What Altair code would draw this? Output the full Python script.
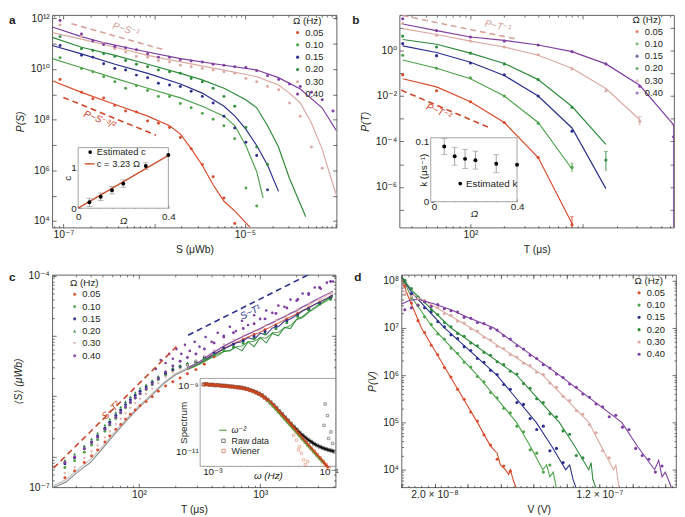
import math
import altair as alt
import pandas as pd

FONT = "Liberation Sans, DejaVu Sans, sans-serif"
TXT = "#231f20"
SER = ["0.05", "0.10", "0.15", "0.20", "0.30", "0.40"]
COLS = ["#D84B2C", "#4FA34A", "#2B2F8E", "#2E8C3C", "#DCAAA4", "#7F3FA2"]
COLMAP = dict(zip(SER, COLS))
CSCALE = alt.Scale(domain=SER, range=COLS)
H = 216
WA, WB, WC, WD = 289, 279, 288, 279
ONE = pd.DataFrame({"k": [0]})

# ======================= DATA =======================
# ---- panel a : P(S) (log10 values) ----
a_dot_logS = [-7.036, -6.800, -6.675, -6.556, -6.433, -6.314, -6.195, -6.072, -5.953, -5.830,
              -5.711, -5.592, -5.469, -5.350, -5.231, -5.112, -4.989, -4.870, -4.751, -4.628,
              -4.509, -4.390, -4.267, -4.148, -4.029]
a_dot_logP = {
    "0.05": [9.59, 9.08, 8.83, 8.86, 8.57, 8.34, 8.30, 7.95, 7.86, 7.69, 7.30, 6.85, 6.23, 5.75, 4.91, 3.90],
    "0.10": [10.45, 10.02, 9.89, 9.70, 9.50, 9.24, 9.34, 9.15, 8.92, 8.92, 8.64, 8.47, 8.25, 8.02, 7.76, 7.25, 5.30, 4.59],
    "0.15": [10.93, 10.54, 10.47, 10.21, 10.02, 9.96, 9.76, 9.66, 9.44, 9.37, 9.31, 9.12, 8.92, 8.66, 8.14, 7.67, 7.11, 6.59, 5.23],
    "0.20": [11.28, 10.80, 10.73, 10.60, 10.50, 10.34, 10.19, 10.09, 9.96, 9.89, 9.83, 9.63, 9.50, 9.24, 8.92, 8.53, 7.69, 6.92, 6.23],
    "0.30": [11.74, 11.28, 11.09, 11.02, 10.80, 10.67, 10.50, 10.47, 10.34, 10.28, 10.15, 10.09, 10.02, 9.96, 9.89, 9.83, 9.63, 9.50, 9.31, 9.18, 8.66, 8.14, 6.92, 6.08],
    "0.40": [11.92, 11.38, 11.12, 10.97, 10.89, 10.84, 10.76, 10.60, 10.47, 10.47, 10.37, 10.32, 10.28, 10.19, 10.15, 10.09, 10.06, 9.93, 9.74, 9.59, 9.41, 9.31, 9.08, 8.79, 8.34],
}
a_line_logS = {
    "0.05": [-7.122, -6.80, -6.43, -6.07, -5.83, -5.71, -5.59, -5.47, -5.35, -5.23, -5.11, -4.94],
    "0.10": [-7.122, -6.80, -6.43, -6.07, -5.71, -5.47, -5.23, -5.11, -4.99, -4.87, -4.80],
    "0.15": [-7.122, -6.80, -6.43, -6.07, -5.71, -5.47, -5.23, -5.11, -4.99, -4.87, -4.75, -4.63],
    "0.20": [-7.122, -6.80, -6.43, -6.07, -5.71, -5.47, -5.23, -4.99, -4.87, -4.75, -4.63, -4.51, -4.33],
    "0.30": [-7.122, -6.80, -6.43, -6.07, -5.71, -5.23, -4.87, -4.63, -4.51, -4.39, -4.27, -4.15, -4.04, -3.99],
    "0.40": [-7.122, -6.80, -6.556, -6.195, -5.71, -5.23, -4.87, -4.63, -4.39, -4.15, -3.99],
}
a_line_logP = {
    "0.05": [9.54, 9.08, 8.60, 8.14, 7.76, 7.43, 6.85, 6.20, 5.43, 4.78, 4.39, 3.74],
    "0.10": [10.41, 10.05, 9.63, 9.24, 8.86, 8.53, 8.14, 7.76, 6.98, 5.95, 4.91],
    "0.15": [10.93, 10.60, 10.19, 9.83, 9.41, 9.05, 8.53, 8.14, 7.63, 6.98, 6.20, 5.17],
    "0.20": [11.25, 10.86, 10.54, 10.19, 9.83, 9.57, 9.24, 8.79, 8.47, 7.76, 6.92, 5.69, 4.17],
    "0.30": [11.44, 11.18, 10.86, 10.54, 10.28, 9.96, 9.70, 9.37, 9.05, 8.66, 7.89, 6.85, 5.56, 5.00],
    "0.40": [11.66, 11.28, 11.04, 10.76, 10.41, 10.15, 9.96, 9.66, 9.21, 8.47, 7.56],
}
a_ref1_logS, a_ref1_logP = [-6.91, -5.89], [11.79, 10.76]
a_ref2_logS, a_ref2_logP = [-7.00, -5.98], [8.88, 7.39]
# inset a
ins_omega = [0.05, 0.10, 0.15, 0.20, 0.30, 0.40]
ins_a_c = [0.144, 0.28, 0.44, 0.60, 1.03, 1.30]
ins_a_err = [0.10, 0.09, 0.09, 0.09, 0.08, 0.0]
ins_a_fit_om, ins_a_fit_c = [0.0, 0.4], [0.0, 1.292]

# ---- panel b : P(T) ----
b_T = [25, 50, 100, 200, 400, 800, 1600, 3200, 6400]
b_line_logP = {
    "0.05": [-1.25, -1.61, -2.26, -3.17, -4.71, -7.60],
    "0.10": [-0.43, -0.79, -1.25, -2.01, -3.17, -5.21],
    "0.15": [0.19, -0.10, -0.53, -1.11, -2.01, -3.41, -6.07],
    "0.20": [0.47, 0.26, -0.13, -0.58, -1.29, -2.47, -4.13],
    "0.30": [0.95, 0.69, 0.40, 0.14, -0.22, -0.79, -1.68, -3.05],
    "0.40": [1.15, 0.86, 0.58, 0.43, 0.23, -0.06, -0.60, -1.54, -3.27],
}
b_dot_logP = {
    "0.05": [-1.08, -1.78, -2.26, -3.17, -4.71, -7.65],
    "0.10": [-0.22, -0.79, -1.21, -2.01, -3.20, -5.14],
    "0.15": [0.29, -0.24, -0.56, -1.08, -2.01, -3.55],
    "0.20": [0.62, 0.14, -0.13, -0.60, -1.29, -2.50, -4.82],
    "0.30": [1.17, 0.66, 0.40, 0.14, -0.20, -0.82, -1.78, -3.12],
    "0.40": [1.38, 0.86, 0.58, 0.40, 0.23, -0.06, -0.60, -1.58, -3.80],
}
b_err_ser = ["0.05", "0.10", "0.20", "0.30", "0.40"]
b_err_T = [800, 800, 1600, 3200, 6400]
b_err_lo = [-7.78, -5.35, -5.30, -3.30, -7.78]
b_err_hi = [-7.30, -4.95, -4.45, -2.90, -3.27]
b_ref1_logT, b_ref1_logP = [1.398, 2.41], [1.52, 0.49]
b_ref2_logT, b_ref2_logP = [1.384, 2.174], [-1.75, -3.41]
ins_b_k = [0.0924, 0.0761, 0.0717, 0.0696, 0.0636, 0.0620]
ins_b_err = [0.0135, 0.015, 0.016, 0.015, 0.015, 0.0]

# ---- panel c : <S>(T) ----
c_dot_logT = [1.39, 1.47, 1.55, 1.61, 1.66, 1.72, 1.76, 1.81, 1.85, 1.89, 1.93, 1.97, 2.01, 2.06, 2.11, 2.16, 2.22,
              2.28, 2.34, 2.40, 2.47, 2.54, 2.62, 2.70, 2.78, 2.86, 2.95, 3.04, 3.13, 3.22, 3.31, 3.40, 3.49, 3.58]
c_dot_logS = {
    "0.05": [-7.35, -7.24, -7.10, -6.99, -6.89, -6.76, -6.66, -6.55, -6.47, -6.38, -6.30, -6.23, -6.16, -6.09, -6.01, -5.92, -5.83,
             -5.76, -5.70, -5.63, -5.56, -5.47, -5.35, -5.22, -5.14, -5.06, -4.98, -4.90, -4.82, -4.72, -4.63, -4.54, -4.45, -4.36],
    "0.10": [-7.18, -7.07, -6.93, -6.81, -6.72, -6.58, -6.48, -6.37, -6.28, -6.19, -6.11, -6.03, -5.96, -5.89, -5.81, -5.73, -5.65,
             -5.58, -5.53, -5.49, -5.44, -5.39, -5.32, -5.24, -5.18, -5.12, -5.04, -4.96, -4.88, -4.78, -4.68, -4.57, -4.48, -4.40],
    "0.15": [-7.12, -7.02, -6.87, -6.76, -6.66, -6.53, -6.43, -6.32, -6.23, -6.14, -6.06, -5.99, -5.92, -5.85, -5.77, -5.70, -5.62,
             -5.56, -5.51, -5.47, -5.42, -5.36, -5.28, -5.20, -5.14, -5.08, -5.01, -4.93, -4.84, -4.75, -4.65, -4.55, -4.46, -4.37],
    "0.20": [-7.06, -6.96, -6.82, -6.71, -6.61, -6.48, -6.38, -6.27, -6.18, -6.09, -6.01, -5.94, -5.87, -5.81, -5.74, -5.67, -5.59,
             -5.53, -5.49, -5.45, -5.42, -5.37, -5.31, -5.24, -5.18, -5.12, -5.05, -4.97, -4.88, -4.78, -4.67, -4.57, -4.47, -4.38],
    "0.30": [-7.28, -7.18, -7.03, -6.92, -6.82, -6.69, -6.59, -6.47, -6.38, -6.29, -6.20, -6.12, -6.05, -5.97, -5.88, -5.79, -5.69,
             -5.61, -5.55, -5.49, -5.42, -5.34, -5.25, -5.15, -5.07, -5.00, -4.92, -4.84, -4.75, -4.66, -4.57, -4.48, -4.40, -4.31],
    "0.40": [-7.10, -7.01, -6.87, -6.77, -6.68, -6.55, -6.46, -6.35, -6.27, -6.18, -6.10, -6.03, -5.96, -5.88, -5.80, -5.71, -5.60,
             -5.50, -5.42, -5.36, -5.30, -5.22, -5.12, -5.02, -4.95, -4.88, -4.80, -4.72, -4.63, -4.54, -4.40, -4.30, -4.20, -4.10],
}
c_purple_extra_logT = [2.14, 2.18, 2.22, 2.25, 2.28, 2.31, 2.35, 2.38, 2.42, 2.46, 2.50, 2.55, 2.60, 2.65, 2.70, 2.75, 2.80,
                       2.85, 2.90, 2.95, 3.00, 3.05, 3.10, 3.15, 3.20, 3.25, 3.30, 3.35, 3.40, 3.45, 3.50, 3.55, 3.60]
c_purple_extra_logS = [-5.55, -5.40, -5.45, -5.30, -5.38, -5.22, -5.30, -5.15, -5.25, -5.10, -5.18, -5.02, -5.10, -4.95, -5.00,
                       -4.85, -4.92, -4.75, -4.82, -4.66, -4.72, -4.58, -4.62, -4.50, -4.52, -4.40, -4.42, -4.30, -4.32, -4.20,
                       -4.22, -4.12, -4.10]
c_gray_logT = [1.29, 1.40, 1.50, 1.60, 1.70, 1.80, 1.90, 2.00, 2.10, 2.20, 2.30, 2.40, 2.50, 2.60]
c_gray_logS = [-7.52, -7.42, -7.25, -7.10, -6.87, -6.63, -6.40, -6.19, -6.00, -5.80, -5.65, -5.55, -5.45, -5.32]
c_gray2_logS = [-7.49, -7.38, -7.21, -7.05, -6.83, -6.59, -6.37, -6.16, -5.97, -5.78, -5.63, -5.53, -5.43, -5.30]
c_hi_logT = [2.40, 2.45, 2.50, 2.55, 2.60, 2.65, 2.70, 2.75, 2.80, 2.85, 2.90, 2.95, 3.00, 3.05, 3.10, 3.15, 3.20,
             3.25, 3.30, 3.35, 3.40, 3.45, 3.50, 3.55, 3.60]
c_hi_logS = {
    "0.05": [-5.56, -5.51, -5.46, -5.40, -5.33, -5.28, -5.21, -5.16, -5.11, -5.07, -5.02, -4.98, -4.94, -4.89, -4.84, -4.79,
             -4.74, -4.69, -4.64, -4.58, -4.53, -4.48, -4.43, -4.38, -4.33],
    "0.10": [-5.55, -5.52, -5.47, -5.42, -5.36, -5.33, -5.26, -5.25, -5.18, -5.17, -5.10, -5.09, -5.03, -5.04, -4.95, -4.94,
             -4.87, -4.83, -4.73, -4.70, -4.61, -4.55, -4.48, -4.42, -4.35],
    "0.15": [-5.55, -5.50, -5.45, -5.39, -5.33, -5.27, -5.22, -5.17, -5.12, -5.10, -5.03, -5.06, -4.96, -4.98, -4.87, -4.85,
             -4.76, -4.72, -4.66, -4.59, -4.54, -4.48, -4.43, -4.38, -4.32],
    "0.20": [-5.55, -5.50, -5.46, -5.40, -5.36, -5.30, -5.26, -5.24, -5.19, -5.25, -5.10, -5.18, -5.03, -5.12, -4.96, -5.00,
             -4.86, -4.88, -4.73, -4.68, -4.60, -4.53, -4.46, -4.40, -4.34],
    "0.30": [-5.54, -5.49, -5.44, -5.37, -5.30, -5.24, -5.18, -5.12, -5.07, -5.02, -4.98, -4.92, -4.90, -4.82, -4.80, -4.72,
             -4.70, -4.62, -4.60, -4.52, -4.50, -4.42, -4.40, -4.33, -4.28],
    "0.40": [-5.53, -5.48, -5.43, -5.36, -5.29, -5.23, -5.17, -5.12, -5.07, -5.02, -4.97, -4.93, -4.88, -4.83, -4.78, -4.73,
             -4.68, -4.63, -4.58, -4.52, -4.47, -4.41, -4.36, -4.31, -4.26],
}
c_ref1_logT, c_ref1_logS = [1.297, 2.31], [-7.19, -5.18]
c_ref2_logT, c_ref2_logS = [2.406, 3.406], [-4.99, -3.98]
# inset c (spectrum)
ins_c_logw = [-3.15, -3.10, -3.05, -3.00, -2.95, -2.90, -2.85, -2.80, -2.75, -2.70, -2.65, -2.60, -2.55, -2.50, -2.45, -2.40,
              -2.35, -2.30, -2.25, -2.20, -2.15, -2.10, -2.05, -2.00, -1.95, -1.90, -1.85, -1.80, -1.75, -1.70, -1.65, -1.60,
              -1.55, -1.50, -1.45, -1.40, -1.35, -1.30, -1.25, -1.20, -1.15, -1.10, -1.05, -1.00, -0.95, -0.90]
ins_c_raw = [-8.95, -8.94, -8.97, -8.96, -8.98, -8.97, -8.99, -8.99, -9.00, -9.01, -9.02, -9.03, -9.04, -9.05, -9.07, -9.09,
             -9.12, -9.15, -9.19, -9.23, -9.28, -9.35, -9.42, -9.50, -9.58, -9.67, -9.77, -9.86, -9.96, -10.05, -10.15, -10.24,
             -10.33, -10.42, -10.50, -10.57, -10.64, -10.70, -10.76, -10.81, -10.85, -10.89, -10.92, -10.95, -10.97, -11.00]
ins_c_wiener = [-8.96, -8.95, -8.96, -8.97, -8.97, -8.98, -8.99, -9.00, -9.00, -9.02, -9.02, -9.04, -9.05, -9.06, -9.08, -9.10,
                -9.13, -9.16, -9.20, -9.24, -9.29, -9.36, -9.43, -9.51, -9.60, -9.69, -9.79, -9.88, -9.98, -10.07, -10.17, -10.28,
                -10.38, -10.49, -10.60, -10.70, -10.80, -10.90, -11.00, -11.10, -11.20, -11.30, -11.40, -11.50]
ins_c_wx_logw = [-1.60, -1.55, -1.50, -1.47, -1.43, -1.40, -1.52, -1.36]
ins_c_wx_logS = [-10.50, -10.65, -10.85, -11.05, -11.25, -11.40, -10.95, -11.30]
ins_c_rx_logw = [-1.06, -1.02, -1.08, -0.96, -1.00, -0.93]
ins_c_rx_logS = [-9.55, -9.90, -10.20, -10.40, -10.60, -10.75]
ins_c_fit_logw, ins_c_fit_logS = [-2.05, -1.10], [-9.45, -11.35]

# ---- panel d : P(V) (V in units of 1e-8 V) ----
d_V = [0.2, 0.6, 1.0, 1.4, 1.8, 2.2, 2.6, 3.0, 3.4, 3.8, 4.2, 4.6, 5.0, 5.4, 5.8, 6.2, 6.6, 7.0, 7.4, 7.8,
       8.2, 8.6, 9.0, 9.4, 9.8, 10.2, 10.6, 11.0, 11.4, 11.8, 12.2, 12.6, 13.0, 13.4, 13.8, 14.2, 14.6, 15.0, 15.4, 15.8]
d_dot_logP = {
    "0.05": [7.88, 7.52, 7.15, 6.90, 6.63, 6.43, 6.16, 5.96, 5.70, 5.49, 5.22, 5.03, 4.74, 4.52, 4.22, 4.08, 3.97],
    "0.10": [7.96, 7.63, 7.47, 7.23, 7.07, 6.87, 6.76, 6.57, 6.46, 6.27, 6.17, 5.97, 5.86, 5.63, 5.52, 5.30, 5.20, 4.92,
             4.80, 4.42, 4.35, 3.95, 4.10],
    "0.15": [7.99, 7.72, 7.62, 7.42, 7.33, 7.13, 7.02, 6.85, 6.77, 6.60, 6.52, 6.35, 6.27, 6.10, 6.01, 5.80, 5.70, 5.42,
             5.38, 5.08, 4.85, 4.92, 4.40, 4.45, 4.15],
    "0.20": [8.00, 7.83, 7.65, 7.55, 7.38, 7.28, 7.11, 7.02, 6.88, 6.82, 6.68, 6.62, 6.48, 6.42, 6.28, 6.22, 6.08, 6.02,
             5.82, 5.72, 5.50, 5.42, 5.18, 5.12, 4.82, 4.75, 4.30, 4.25],
    "0.30": [7.70, 7.66, 7.62, 7.58, 7.47, 7.43, 7.30, 7.26, 7.14, 7.10, 6.98, 6.93, 6.80, 6.74, 6.61, 6.56, 6.43, 6.38,
             6.25, 6.20, 6.06, 6.01, 5.83, 5.74, 5.55, 5.46, 5.25, 5.17, 4.95, 4.78, 4.40, 4.25],
    "0.40": [7.38, 7.42, 7.48, 7.55, 7.45, 7.49, 7.40, 7.36, 7.33, 7.22, 7.20, 7.11, 7.09, 6.99, 6.95, 6.83, 6.76, 6.62,
             6.55, 6.42, 6.35, 6.22, 6.15, 6.02, 5.95, 5.81, 5.74, 5.60, 5.53, 5.39, 5.33, 5.12, 5.15, 4.90, 4.85, 4.45,
             4.30, 4.22, 3.95, 4.08],
}
d_line_V = {
    "0.05": [0, 0.3, 0.6, 1.2, 2.9, 4.6, 5.4, 5.8, 6.0, 6.3, 6.5, 6.6, 6.8, 6.98],
    "0.10": [0, 0.6, 1.9, 4.59, 6.98, 7.8, 8.57, 8.8, 9.0, 9.2, 9.4],
    "0.15": [0, 0.6, 2.59, 5.78, 8.17, 9.1, 9.96, 10.2, 10.4, 10.6],
    "0.20": [0, 0.6, 2.99, 6.98, 9.57, 10.5, 11.36, 11.5, 11.6, 11.8],
    "0.30": [0, 0.6, 1.5, 4.19, 8.57, 11.36, 12.1, 12.86, 13.0, 13.2],
    "0.40": [0, 0.5, 1.0, 2.0, 3.0, 4.0, 5.58, 9.57, 13.36, 14.3, 15.35, 15.6, 15.8, 16.0, 16.4],
}
d_line_logP = {
    "0.05": [8.08, 7.75, 7.50, 7.00, 6.00, 5.00, 4.50, 4.35, 4.10, 4.00, 3.90, 4.00, 3.75, 3.60],
    "0.10": [8.08, 7.65, 7.00, 6.00, 5.00, 4.50, 4.00, 4.10, 3.85, 3.95, 3.60],
    "0.15": [8.08, 7.75, 7.00, 6.00, 5.00, 4.50, 4.00, 4.10, 3.80, 3.60],
    "0.20": [8.08, 7.80, 7.00, 6.00, 5.00, 4.50, 4.00, 4.15, 3.80, 3.60],
    "0.30": [7.78, 7.72, 7.55, 7.00, 6.00, 5.00, 4.50, 4.00, 4.10, 3.60],
    "0.40": [7.50, 7.58, 7.60, 7.50, 7.38, 7.22, 7.00, 6.00, 5.00, 4.50, 4.00, 4.20, 3.85, 3.95, 3.60],
}

# ======================= HELPERS =======================
def p10(v):
    return 10.0 ** v


def ident(v):
    return v


def e8(v):
    return v * 1e-8


def mk_long(xs, ys, xconv=p10, yconv=p10):
    rows = []
    for s in SER:
        if s not in ys:
            continue
        X = xs[s] if isinstance(xs, dict) else xs
        for i, (a, b) in enumerate(zip(X, ys[s])):
            rows.append({"s": s, "col": COLMAP[s], "x": xconv(a), "y": yconv(b), "i": i})
    return pd.DataFrame(rows)


def lab_expr(pairs):
    expr = "''"
    for v, s in reversed(pairs):
        tol = max(abs(v) * 1e-6, 1e-15)
        expr = f"abs(datum.value - ({v!r})) <= {tol!r} ? '{s}' : ({expr})"
    return expr


def lab_axis(orient, pairs, title, offset=0, lpad=2, tpad=4, italic=False, size=10.5, **kw):
    a = dict(orient=orient, values=[v for v, _ in pairs], labelExpr=lab_expr(pairs),
             ticks=False, tickSize=0, domain=False, grid=False, labelFlush=False,
             labelOverlap=False, labelFont=FONT, labelFontSize=size, labelColor=TXT,
             labelPadding=lpad, titleFont=FONT, titleFontSize=size, titleFontWeight="normal",
             titleColor=TXT, titlePadding=tpad, offset=offset, title=title)
    if italic:
        a["titleFontStyle"] = "italic"
    a.update(kw)
    return alt.Axis(**a)


def tick_axis(orient, values, size, offset):
    return alt.Axis(orient=orient, values=values, labels=False, ticks=True, tickSize=size,
                    tickColor="#333333", tickWidth=0.7, domain=False, grid=False, title=None, offset=offset)


def log_ticks(lo, hi, ks):
    out = []
    for e in range(math.floor(math.log10(lo)) - 1, math.ceil(math.log10(hi)) + 1):
        for k in ks:
            v = k * 10.0 ** e
            if lo <= v <= hi:
                out.append(v)
    return out


MINK = [2, 3, 4, 5, 6, 7, 8, 9]


def axis_layers(XS, YS, dummy, specs):
    d = pd.DataFrame({"x": [dummy[0]], "y": [dummy[1]]})
    out = []
    for xa, ya in specs:
        out.append(alt.Chart(d).mark_point(opacity=0).encode(
            x=alt.X("x:Q", scale=XS, axis=xa), y=alt.Y("y:Q", scale=YS, axis=ya)))
    return out


def frame_specs(W, xpairs, ypairs, xmaj, xmin, ymaj, ymin, xtitle, ytitle):
    return [
        (lab_axis("bottom", xpairs, xtitle, lpad=2, tpad=5),
         lab_axis("left", ypairs, ytitle, lpad=3, tpad=5, italic=True)),
        (tick_axis("top", xmaj, 4, -H), tick_axis("right", ymaj, 4, -W)),
        (tick_axis("top", xmin, 2, -H) if xmin else None, tick_axis("right", ymin, 2, -W) if ymin else None),
        (tick_axis("bottom", xmaj, 4, -H), tick_axis("left", ymaj, 4, -W)),
        (tick_axis("bottom", xmin, 2, -H) if xmin else None, tick_axis("left", ymin, 2, -W) if ymin else None),
    ]


def lines_layer(df, XS, YS, width=1.2, opacity=1.0):
    return alt.Chart(df).mark_line(strokeWidth=width, opacity=opacity, clip=True).encode(
        x=alt.X("x:Q", scale=XS, axis=None), y=alt.Y("y:Q", scale=YS, axis=None),
        color=alt.Color("col:N", scale=None), detail="s:N", order="i:Q")


def leg(x, y):
    return alt.Legend(title="Ω (Hz)", orient="none", legendX=x, legendY=y, symbolType="circle",
                      symbolSize=10, symbolStrokeWidth=0, labelFont=FONT, labelFontSize=9.5,
                      titleFont=FONT, titleFontSize=10, titleFontWeight="normal", labelColor=TXT,
                      titleColor=TXT, rowPadding=1.5, titlePadding=2, labelOffset=3)


def dots_layer(df, XS, YS, legend, size=9):
    return alt.Chart(df).mark_circle(size=size, opacity=1, clip=True).encode(
        x=alt.X("x:Q", scale=XS, axis=None), y=alt.Y("y:Q", scale=YS, axis=None),
        color=alt.Color("s:N", scale=CSCALE, legend=legend))


def dash_layer(xs, ys, color, XS, YS, xconv=p10, yconv=p10):
    df = pd.DataFrame({"x": [xconv(v) for v in xs], "y": [yconv(v) for v in ys]})
    return alt.Chart(df).mark_line(color=color, strokeDash=[6, 4], strokeWidth=1.6, clip=True).encode(
        x=alt.X("x:Q", scale=XS, axis=None), y=alt.Y("y:Q", scale=YS, axis=None))


def note_layer(x, y, text, color, angle, XS, YS, size=10):
    df = pd.DataFrame({"x": [x], "y": [y], "t": [text]})
    return alt.Chart(df).mark_text(color=color, angle=angle, font=FONT, fontSize=size, fontStyle="italic").encode(
        x=alt.X("x:Q", scale=XS, axis=None), y=alt.Y("y:Q", scale=YS, axis=None), text="t:N")


def letter(ch, dx, dy):
    return alt.Chart(ONE).mark_text(text=ch, font=FONT, fontSize=12, fontWeight="bold", color=TXT,
                                    align="left", baseline="top").encode(x=alt.value(dx), y=alt.value(dy))


def vtext(text, x, y, size=9.5, color=TXT, italic=False):
    kw = dict(text=text, font=FONT, fontSize=size, color=color, align="left", baseline="middle")
    if italic:
        kw["fontStyle"] = "italic"
    return alt.Chart(ONE).mark_text(**kw).encode(x=alt.value(x), y=alt.value(y))


def frame_rect(x0, x1, y0, y1):
    return alt.Chart(ONE).mark_rect(fill="white", stroke="#8c8c8c", strokeWidth=0.8).encode(
        x=alt.value(x0), x2=alt.value(x1), y=alt.value(y0), y2=alt.value(y1))


def inset_specs(W, x0, y1, xpairs, ypairs, xt_maj, xt_min, yt_maj, yt_min, xtitle, ytitle,
                x_lpad, y_lpad, xtitleY, ytitleX, xitalic=True):
    xa = lab_axis("bottom", xpairs, xtitle, offset=y1 - H, lpad=x_lpad, tpad=1, size=10,
                  titleY=xtitleY, titleFontStyle="italic" if xitalic else "normal")
    ya = lab_axis("left", ypairs, ytitle, offset=-x0, lpad=y_lpad, tpad=1, size=10, titleX=ytitleX)
    return [
        (xa, ya),
        (tick_axis("top", xt_maj, 3, -y1), tick_axis("right", yt_maj, 3, x0 - W)),
        (tick_axis("top", xt_min, 2, -y1) if xt_min else None, tick_axis("right", yt_min, 2, x0 - W) if yt_min else None),
    ]


def panel(W, main_layers, inset_layers=None):
    main = alt.layer(*main_layers).resolve_axis(x="independent", y="independent")
    if inset_layers is not None:
        ch = alt.layer(main, inset_layers).resolve_scale(x="independent", y="independent")
    else:
        ch = main
    return ch.properties(width=W, height=H)


# ======================= PANEL A =======================
AX = alt.Scale(type="log", domain=[p10(-7.122), p10(-3.99)], nice=False)
AY = alt.Scale(type="log", domain=[p10(3.74), p10(12.13)], nice=False)
a_layers = [
    lines_layer(mk_long(a_line_logS, a_line_logP), AX, AY),
    dots_layer(mk_long(a_dot_logS, a_dot_logP), AX, AY, leg(244.6, 1)),
    dash_layer(a_ref1_logS, a_ref1_logP, "#D9A39C", AX, AY),
    dash_layer(a_ref2_logS, a_ref2_logP, "#D0452A", AX, AY),
    note_layer(p10(-6.31), p10(11.56), "P~S⁻¹", "#D29C95", 16, AX, AY),
    note_layer(p10(-6.60), p10(8.00), "P~S⁻³/²", "#D0452A", 22, AX, AY),
    letter("a", -44, 0),
]
a_layers += axis_layers(AX, AY, (p10(-5.5), p10(8)), frame_specs(
    WA, [(1e-7, "10⁻⁷"), (1e-5, "10⁻⁵")],
    [(1e12, "10¹²"), (1e10, "10¹⁰"), (1e8, "10⁸"), (1e6, "10⁶"), (1e4, "10⁴")],
    log_ticks(AX.domain[0], AX.domain[1], [1]), log_ticks(AX.domain[0], AX.domain[1], MINK),
    log_ticks(AY.domain[0], AY.domain[1], [1]), None, "S (μWb)", "P(S)"))

# inset a
IA = (26.3, 118.0, 134.7, 196.3)
IAX = alt.Scale(domain=[0, 0.4], range=[IA[0], IA[1]], nice=False, zero=False)
IAY = alt.Scale(domain=[0, 1.48], range=[IA[3], IA[2]], nice=False, zero=False)
ia_df = pd.DataFrame({"om": ins_omega, "c": ins_a_c, "lo": [c - e for c, e in zip(ins_a_c, ins_a_err)],
                      "hi": [c + e for c, e in zip(ins_a_c, ins_a_err)], "e": ins_a_err})
ia_err = ia_df[ia_df.e > 0]
ia_fit = pd.DataFrame({"om": ins_a_fit_om, "c": ins_a_fit_c})
ia_layers = [
    frame_rect(*IA),
    alt.Chart(ia_err).mark_rule(color="#8a8a8a", strokeWidth=0.8).encode(
        x=alt.X("om:Q", scale=IAX, axis=None), y=alt.Y("lo:Q", scale=IAY, axis=None), y2="hi:Q"),
    alt.Chart(ia_err).mark_tick(orient="horizontal", size=6, thickness=0.8, color="#8a8a8a").encode(
        x=alt.X("om:Q", scale=IAX, axis=None), y=alt.Y("lo:Q", scale=IAY, axis=None)),
    alt.Chart(ia_err).mark_tick(orient="horizontal", size=6, thickness=0.8, color="#8a8a8a").encode(
        x=alt.X("om:Q", scale=IAX, axis=None), y=alt.Y("hi:Q", scale=IAY, axis=None)),
    alt.Chart(ia_fit).mark_line(color="#C9532F", strokeWidth=1.4).encode(
        x=alt.X("om:Q", scale=IAX, axis=None), y=alt.Y("c:Q", scale=IAY, axis=None)),
    alt.Chart(ia_df).mark_circle(size=16, color="black", opacity=1).encode(
        x=alt.X("om:Q", scale=IAX, axis=None), y=alt.Y("c:Q", scale=IAY, axis=None)),
    alt.Chart(ONE).mark_circle(size=14, color="black", opacity=1).encode(x=alt.value(38.5), y=alt.value(139.2)),
    vtext("Estimated c", 45.3, 139.2),
    alt.Chart(ONE).mark_rule(color="#C9532F", strokeWidth=1.4).encode(
        x=alt.value(33), x2=alt.value(43), y=alt.value(151.2)),
    vtext("c = 3.23 Ω", 45.3, 151.2),
]
ia_layers += axis_layers(IAX, IAY, (0.2, 0.7), inset_specs(
    WA, IA[0], IA[3], [(0, "0"), (0.4, "0.4")], [(0, "0"), (1, "1")],
    [0, 0.05, 0.1, 0.15, 0.2, 0.25, 0.3, 0.35, 0.4], None, [0, 0.5, 1.0], None,
    "Ω", "c", 3, 2, 8, -6))
inset_a = alt.layer(*ia_layers).resolve_axis(x="independent", y="independent")
PA = panel(WA, a_layers, inset_a)

# ======================= PANEL B =======================
BX = alt.Scale(type="log", domain=[p10(1.37), p10(3.81)], nice=False)
BY = alt.Scale(type="log", domain=[p10(-7.78), p10(1.54)], nice=False)
b_errdf = pd.DataFrame({"s": b_err_ser, "col": [COLMAP[s] for s in b_err_ser], "x": b_err_T,
                        "lo": [p10(v) for v in b_err_lo], "hi": [p10(v) for v in b_err_hi]})
b_layers = [
    alt.Chart(b_errdf).mark_rule(strokeWidth=0.9, clip=True).encode(
        x=alt.X("x:Q", scale=BX, axis=None), y=alt.Y("lo:Q", scale=BY, axis=None), y2="hi:Q",
        color=alt.Color("col:N", scale=None)),
    alt.Chart(b_errdf).mark_tick(orient="horizontal", size=4, thickness=0.8, clip=True).encode(
        x=alt.X("x:Q", scale=BX, axis=None), y=alt.Y("hi:Q", scale=BY, axis=None),
        color=alt.Color("col:N", scale=None)),
    lines_layer(mk_long(b_T, b_line_logP, xconv=ident), BX, BY),
    dots_layer(mk_long(b_T, b_dot_logP, xconv=ident), BX, BY, leg(236.7, 0), size=10),
    dash_layer(b_ref1_logT, b_ref1_logP, "#D9A39C", BX, BY),
    dash_layer(b_ref2_logT, b_ref2_logP, "#D0452A", BX, BY),
    note_layer(p10(2.244), p10(1.05), "P~T⁻¹", "#D29C95", 12, BX, BY),
    note_layer(p10(1.72), p10(-2.69), "P~T⁻²", "#D0452A", 23, BX, BY),
    letter("b", -48, 0),
]
b_layers += axis_layers(BX, BY, (p10(2.5), p10(-3)), frame_specs(
    WB, [(100, "10²")], [(1, "10⁰"), (1e-2, "10⁻²"), (1e-4, "10⁻⁴"), (1e-6, "10⁻⁶")],
    log_ticks(BX.domain[0], BX.domain[1], [1]), log_ticks(BX.domain[0], BX.domain[1], MINK),
    log_ticks(BY.domain[0], BY.domain[1], [1]), None, "T (μs)", "P(T)"))

IB = (31.7, 119.4, 124.7, 189.7)
IBX = alt.Scale(domain=[-0.015, 0.4], range=[IB[0], IB[1]], nice=False, zero=False)
IBY = alt.Scale(domain=[0, 0.107], range=[IB[3], IB[2]], nice=False, zero=False)
ib_df = pd.DataFrame({"om": ins_omega, "k": ins_b_k, "lo": [k - e for k, e in zip(ins_b_k, ins_b_err)],
                      "hi": [k + e for k, e in zip(ins_b_k, ins_b_err)], "e": ins_b_err})
ib_err = ib_df[ib_df.e > 0]
ib_layers = [
    frame_rect(*IB),
    alt.Chart(ib_err).mark_rule(color="#8a8a8a", strokeWidth=0.8).encode(
        x=alt.X("om:Q", scale=IBX, axis=None), y=alt.Y("lo:Q", scale=IBY, axis=None), y2="hi:Q"),
    alt.Chart(ib_err).mark_tick(orient="horizontal", size=6, thickness=0.8, color="#8a8a8a").encode(
        x=alt.X("om:Q", scale=IBX, axis=None), y=alt.Y("lo:Q", scale=IBY, axis=None)),
    alt.Chart(ib_err).mark_tick(orient="horizontal", size=6, thickness=0.8, color="#8a8a8a").encode(
        x=alt.X("om:Q", scale=IBX, axis=None), y=alt.Y("hi:Q", scale=IBY, axis=None)),
    alt.Chart(ib_df).mark_circle(size=16, color="black", opacity=1).encode(
        x=alt.X("om:Q", scale=IBX, axis=None), y=alt.Y("k:Q", scale=IBY, axis=None)),
    alt.Chart(ONE).mark_circle(size=14, color="black", opacity=1).encode(x=alt.value(61.7), y=alt.value(171.3)),
    vtext("Estimated k", 67.5, 171.3, size=10),
]
ib_layers += axis_layers(IBX, IBY, (0.2, 0.05), inset_specs(
    WB, IB[0], IB[3], [(0, "0"), (0.4, "0.4")], [(0, "0"), (0.1, "0.1")],
    [0, 0.05, 0.1, 0.15, 0.2, 0.25, 0.3, 0.35, 0.4], None,
    [0, 0.01, 0.02, 0.03, 0.04, 0.05, 0.06, 0.07, 0.08, 0.09, 0.1], None,
    "Ω", "k (μs⁻¹)", 0, 2, 7, -2.5))
inset_b = alt.layer(*ib_layers).resolve_axis(x="independent", y="independent")
PB = panel(WB, b_layers, inset_b)

# ======================= PANEL C =======================
CX = alt.Scale(type="log", domain=[p10(1.286), p10(3.622)], nice=False)
CY = alt.Scale(type="log", domain=[p10(-7.51), p10(-3.99)], nice=False)
c_gray = pd.DataFrame({"x": [p10(v) for v in c_gray_logT], "y": [p10(v) for v in c_gray_logS]})
c_gray2 = pd.DataFrame({"x": [p10(v) for v in c_gray_logT], "y": [p10(v) for v in c_gray2_logS]})
c_px = pd.DataFrame({"x": [p10(v) for v in c_purple_extra_logT], "y": [p10(v) for v in c_purple_extra_logS]})
C_SHAPES = ["circle", "circle", "circle", "triangle-up", "triangle-down", "circle"]
c_leg = leg(18, 3)
c_dots = alt.Chart(mk_long(c_dot_logT, c_dot_logS)).mark_point(filled=True, size=9, opacity=1, strokeWidth=0,
                                                              clip=True).encode(
    x=alt.X("x:Q", scale=CX, axis=None), y=alt.Y("y:Q", scale=CY, axis=None),
    color=alt.Color("s:N", scale=CSCALE, legend=c_leg),
    shape=alt.Shape("s:N", scale=alt.Scale(domain=SER, range=C_SHAPES), legend=c_leg))
c_layers = [
    alt.Chart(c_gray2).mark_line(color="#c4c4c4", strokeWidth=1.2, clip=True).encode(
        x=alt.X("x:Q", scale=CX, axis=None), y=alt.Y("y:Q", scale=CY, axis=None)),
    alt.Chart(c_gray).mark_line(color="#8f8f8f", strokeWidth=1.2, clip=True).encode(
        x=alt.X("x:Q", scale=CX, axis=None), y=alt.Y("y:Q", scale=CY, axis=None)),
    lines_layer(mk_long(c_hi_logT, c_hi_logS), CX, CY, width=1.1, opacity=0.9),
    c_dots,
    alt.Chart(c_px).mark_circle(size=7, opacity=1, clip=True, color=COLMAP["0.40"]).encode(
        x=alt.X("x:Q", scale=CX, axis=None), y=alt.Y("y:Q", scale=CY, axis=None)),
    dash_layer(c_ref1_logT, c_ref1_logS, "#C8452A", CX, CY),
    dash_layer(c_ref2_logT, c_ref2_logS, "#2B2F8E", CX, CY),
    note_layer(p10(1.77), p10(-6.24), "S~T²", "#C8452A", 315, CX, CY),
    note_layer(p10(2.92), p10(-4.61), "S~T¹", "#2B2F8E", 333, CX, CY),
    letter("c", -44, -3),
]
c_layers += axis_layers(CX, CY, (p10(2.5), p10(-5.5)), frame_specs(
    WC, [(100, "10²"), (1000, "10³")], [(1e-4, "10⁻⁴"), (p10(-7.51), "10⁻⁷")],
    log_ticks(CX.domain[0], CX.domain[1], [1]), log_ticks(CX.domain[0], CX.domain[1], MINK),
    log_ticks(CY.domain[0], CY.domain[1], [1]), log_ticks(CY.domain[0], CY.domain[1], MINK),
    "T (μs)", "⟨S⟩ (μWb)"))

IC = (150.3, 288.0, 105.3, 194.7)
ICX = alt.Scale(type="log", domain=[p10(-3.21), p10(-0.88)], range=[IC[0], IC[1]], nice=False)
ICY = alt.Scale(type="log", domain=[p10(-11.45), p10(-8.77)], range=[IC[3], IC[2]], nice=False)
ic_raw = pd.DataFrame({"x": [p10(v) for v in ins_c_logw], "y": [p10(v) for v in ins_c_raw]})
ic_wie = pd.DataFrame({"x": [p10(v) for v in ins_c_logw[:len(ins_c_wiener)]], "y": [p10(v) for v in ins_c_wiener]})
ic_wx = pd.DataFrame({"x": [p10(v) for v in ins_c_wx_logw], "y": [p10(v) for v in ins_c_wx_logS]})
ic_rx = pd.DataFrame({"x": [p10(v) for v in ins_c_rx_logw], "y": [p10(v) for v in ins_c_rx_logS]})
ic_fit = pd.DataFrame({"x": [p10(v) for v in ins_c_fit_logw], "y": [p10(v) for v in ins_c_fit_logS]})


def icxy(df, mark):
    return alt.Chart(df).mark_point(**mark).encode(
        x=alt.X("x:Q", scale=ICX, axis=None), y=alt.Y("y:Q", scale=ICY, axis=None))


ic_layers = [
    frame_rect(*IC),
    alt.Chart(ic_raw).mark_line(color="#111111", strokeWidth=2.2, clip=True).encode(
        x=alt.X("x:Q", scale=ICX, axis=None), y=alt.Y("y:Q", scale=ICY, axis=None)),
    icxy(ic_raw, dict(shape="square", size=10, filled=False, color="#111111", strokeWidth=0.7, clip=True)),
    icxy(ic_rx, dict(shape="square", size=6, filled=False, color="#111111", strokeWidth=0.6, clip=True)),
    alt.Chart(ic_wie).mark_line(color="#C9461E", strokeWidth=2.6, clip=True).encode(
        x=alt.X("x:Q", scale=ICX, axis=None), y=alt.Y("y:Q", scale=ICY, axis=None)),
    icxy(ic_wie, dict(shape="square", size=10, filled=False, color="#C9461E", strokeWidth=0.7, clip=True)),
    icxy(ic_wx, dict(shape="square", size=6, filled=False, color="#D9603A", strokeWidth=0.6, clip=True)),
    alt.Chart(ic_fit).mark_line(color="#5DA040", strokeWidth=1.2, clip=True).encode(
        x=alt.X("x:Q", scale=ICX, axis=None), y=alt.Y("y:Q", scale=ICY, axis=None)),
    alt.Chart(ONE).mark_rule(color="#5DA040", strokeWidth=1.2).encode(
        x=alt.value(169.7), x2=alt.value(177.3), y=alt.value(158)),
    vtext("ω⁻²", 182.3, 157.5, italic=True, size=9),
    alt.Chart(ONE).mark_point(shape="square", size=12, filled=False, color="#111111", strokeWidth=0.8).encode(
        x=alt.value(174), y=alt.value(168.7)),
    vtext("Raw data", 182.3, 168.7, size=9),
    alt.Chart(ONE).mark_point(shape="square", size=12, filled=False, color="#C9461E", strokeWidth=0.8).encode(
        x=alt.value(174), y=alt.value(179)),
    vtext("Wiener", 182.3, 179, size=9),
]
ic_layers += axis_layers(ICX, ICY, (p10(-2), p10(-10)), inset_specs(
    WC, IC[0], IC[3], [(1e-3, "10⁻³"), (1e-1, "10⁻¹")], [(1e-9, "10⁻⁹"), (1e-11, "10⁻¹¹")],
    log_ticks(ICX.domain[0], ICX.domain[1], [1]), log_ticks(ICX.domain[0], ICX.domain[1], MINK),
    log_ticks(ICY.domain[0], ICY.domain[1], [1]), log_ticks(ICY.domain[0], ICY.domain[1], MINK),
    "ω (Hz)", "Spectrum", 0, 2, 4, -12))
inset_c = alt.layer(*ic_layers).resolve_axis(x="independent", y="independent")
PC = panel(WC, c_layers, inset_c)

# ======================= PANEL D =======================
DX = alt.Scale(domain=[0, 1.665e-7], nice=False, zero=False)
DY = alt.Scale(type="log", domain=[p10(3.628), p10(8.118)], nice=False)
d_major_x = [i * 2e-8 for i in range(0, 9) if i * 2e-8 <= 1.665e-7]
d_minor_x = [i * 4e-9 for i in range(0, 42) if i * 4e-9 <= 1.665e-7]
d_layers = [
    lines_layer(mk_long(d_line_V, d_line_logP, xconv=e8), DX, DY, width=1.1),
    dots_layer(mk_long(d_V, d_dot_logP, xconv=e8), DX, DY, leg(236.7, 1.5), size=10),
    letter("d", -48, -3),
]
d_layers += axis_layers(DX, DY, (8e-8, p10(6)), frame_specs(
    WD, [(2e-8, "2.0 × 10⁻⁸"), (1.2e-7, "1.2 × 10⁻⁷")],
    [(1e8, "10⁸"), (1e7, "10⁷"), (1e6, "10⁶"), (1e5, "10⁵"), (1e4, "10⁴")],
    d_major_x, d_minor_x,
    log_ticks(DY.domain[0], DY.domain[1], [1]), log_ticks(DY.domain[0], DY.domain[1], MINK),
    "V  (V)", "P(V)"))
PD = panel(WD, d_layers)

# ======================= ASSEMBLY =======================
top = alt.hconcat(PA, PB, spacing=14).resolve_scale(color="independent", shape="independent")
bottom = alt.hconcat(PC, PD, spacing=14).resolve_scale(color="independent", shape="independent")
chart = (alt.vconcat(top, bottom, spacing=14)
         .resolve_scale(color="independent", shape="independent")
         .properties(padding=0, background="white")
         .configure(font=FONT)
         .configure_view(stroke="#3a3a3a", strokeWidth=0.8))

chart.save("out.html", embed_options={"renderer": "svg", "actions": False})
